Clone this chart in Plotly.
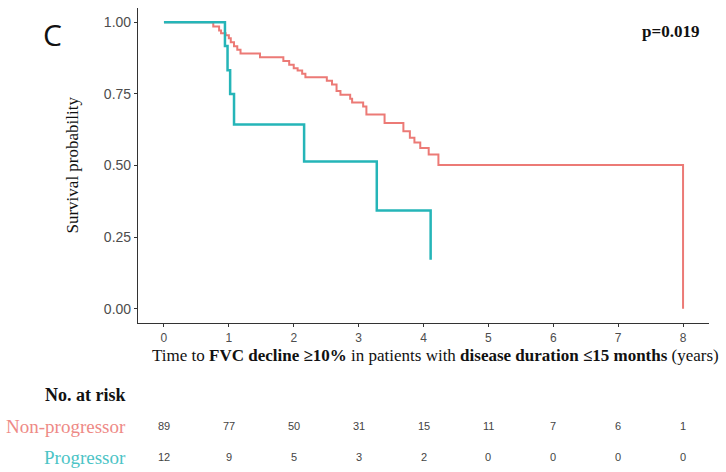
import plotly.graph_objects as go

# Kaplan-Meier step data (time in years, survival probability)
nonprog_time = [0, 0.76, 0.85, 0.88, 0.95, 1.00, 1.03, 1.08, 1.13, 1.18, 1.48, 1.84, 1.93, 2.00,
                2.06, 2.13, 2.18, 2.51, 2.59, 2.66, 2.72, 2.87, 2.90, 3.07, 3.12, 3.40, 3.69,
                3.79, 3.86, 3.95, 4.08, 4.23, 8.00]
nonprog_surv = [1.0, 0.985, 0.971, 0.962, 0.955, 0.944, 0.930, 0.916, 0.904, 0.891, 0.878, 0.865,
                0.852, 0.840, 0.832, 0.820, 0.808, 0.796, 0.783, 0.760, 0.747, 0.733, 0.720,
                0.706, 0.678, 0.648, 0.620, 0.597, 0.580, 0.561, 0.538, 0.502, 0.0]

prog_time = [0, 0.94, 0.98, 1.02, 1.08, 2.16, 3.28, 4.11]
prog_surv = [1.0, 0.917, 0.833, 0.75, 0.643, 0.514, 0.343, 0.171]

x_ticks = [0, 1, 2, 3, 4, 5, 6, 7, 8]
y_ticks = [0.0, 0.25, 0.5, 0.75, 1.0]
risk_times = [0, 1, 2, 3, 4, 5, 6, 7, 8]
nonprog_risk = [89, 77, 50, 31, 15, 11, 7, 6, 1]
prog_risk = [12, 9, 5, 3, 2, 0, 0, 0, 0]

RED = "#EC7A76"
TEAL = "#25B5B8"
SERIF = "Liberation Serif, Times New Roman, serif"
SANS = "Liberation Sans, Arial, sans-serif"

fig = go.Figure()
fig.add_trace(go.Scatter(x=nonprog_time, y=nonprog_surv, mode="lines", line_shape="hv",
                         line=dict(color=RED, width=2), name="Non-progressor", showlegend=False))
fig.add_trace(go.Scatter(x=prog_time, y=prog_surv, mode="lines", line_shape="hv",
                         line=dict(color=TEAL, width=2.5), name="Progressor", showlegend=False))

L, R, T, B = 138, 17, 8, 149
W, H = 726, 472
pw = W - L - R
ph = H - T - B

def px_x(px):
    return (px - L) / pw

def px_y(py):
    return (H - B - py) / ph

ann = []
ann.append(dict(text="C", x=px_x(52), y=px_y(34), xref="paper", yref="paper", showarrow=False,
                font=dict(family="Open Sans", size=30, color="#111"), xanchor="center", yanchor="middle"))
ann.append(dict(text="<b>p=0.019</b>", x=px_x(670), y=px_y(32), xref="paper", yref="paper",
                showarrow=False, font=dict(family=SERIF, size=17, color="#111"),
                xanchor="center", yanchor="middle"))
ann.append(dict(text="Survival probability", x=px_x(72), y=0.5, xref="paper", yref="paper",
                showarrow=False, textangle=-90, font=dict(family=SERIF, size=17, color="#111"),
                xanchor="center", yanchor="middle"))
ann.append(dict(text="Time to <b>FVC decline \u226510%</b> in patients with <b>disease duration \u226415 months</b> (years)",
                x=px_x(435), y=px_y(355), xref="paper", yref="paper", showarrow=False,
                font=dict(family=SERIF, size=17, color="#111"), xanchor="center", yanchor="middle"))
ann.append(dict(text="<b>No. at risk</b>", x=px_x(128), y=px_y(395), xref="paper", yref="paper",
                showarrow=False, font=dict(family=SERIF, size=18, color="#111"),
                xanchor="right", yanchor="middle"))
ann.append(dict(text="Non-progressor", x=px_x(128), y=px_y(426), xref="paper", yref="paper",
                showarrow=False, font=dict(family=SERIF, size=19, color="#EE8A86"),
                xanchor="right", yanchor="middle"))
ann.append(dict(text="Progressor", x=px_x(128), y=px_y(457), xref="paper", yref="paper",
                showarrow=False, font=dict(family=SERIF, size=19, color="#4CC4C6"),
                xanchor="right", yanchor="middle"))
for t, n1, n2 in zip(risk_times, nonprog_risk, prog_risk):
    ann.append(dict(text=str(n1), x=t, y=px_y(426), xref="x", yref="paper", showarrow=False,
                    font=dict(family=SANS, size=11, color="#444"), xanchor="center", yanchor="middle"))
    ann.append(dict(text=str(n2), x=t, y=px_y(457), xref="x", yref="paper", showarrow=False,
                    font=dict(family=SANS, size=11, color="#444"), xanchor="center", yanchor="middle"))

fig.update_layout(
    width=W, height=H,
    margin=dict(l=L, r=R, t=T, b=B),
    paper_bgcolor="white", plot_bgcolor="white",
    annotations=ann,
    xaxis=dict(range=[-0.4, 8.4], tickvals=x_ticks, ticktext=[str(v) for v in x_ticks],
               showgrid=False, zeroline=False, showline=True, linecolor="#333", linewidth=1.2,
               ticks="outside", ticklen=3, tickcolor="#333", tickwidth=1,
               tickfont=dict(family=SANS, size=12, color="#4d4d4d")),
    yaxis=dict(range=[-0.05, 1.05], tickvals=y_ticks, ticktext=["%.2f" % v for v in y_ticks],
               showgrid=False, zeroline=False, showline=True, linecolor="#333", linewidth=1.2,
               ticks="outside", ticklen=3, tickcolor="#333", tickwidth=1,
               tickfont=dict(family=SANS, size=14, color="#4d4d4d")),
)

fig.write_html("out.html")
